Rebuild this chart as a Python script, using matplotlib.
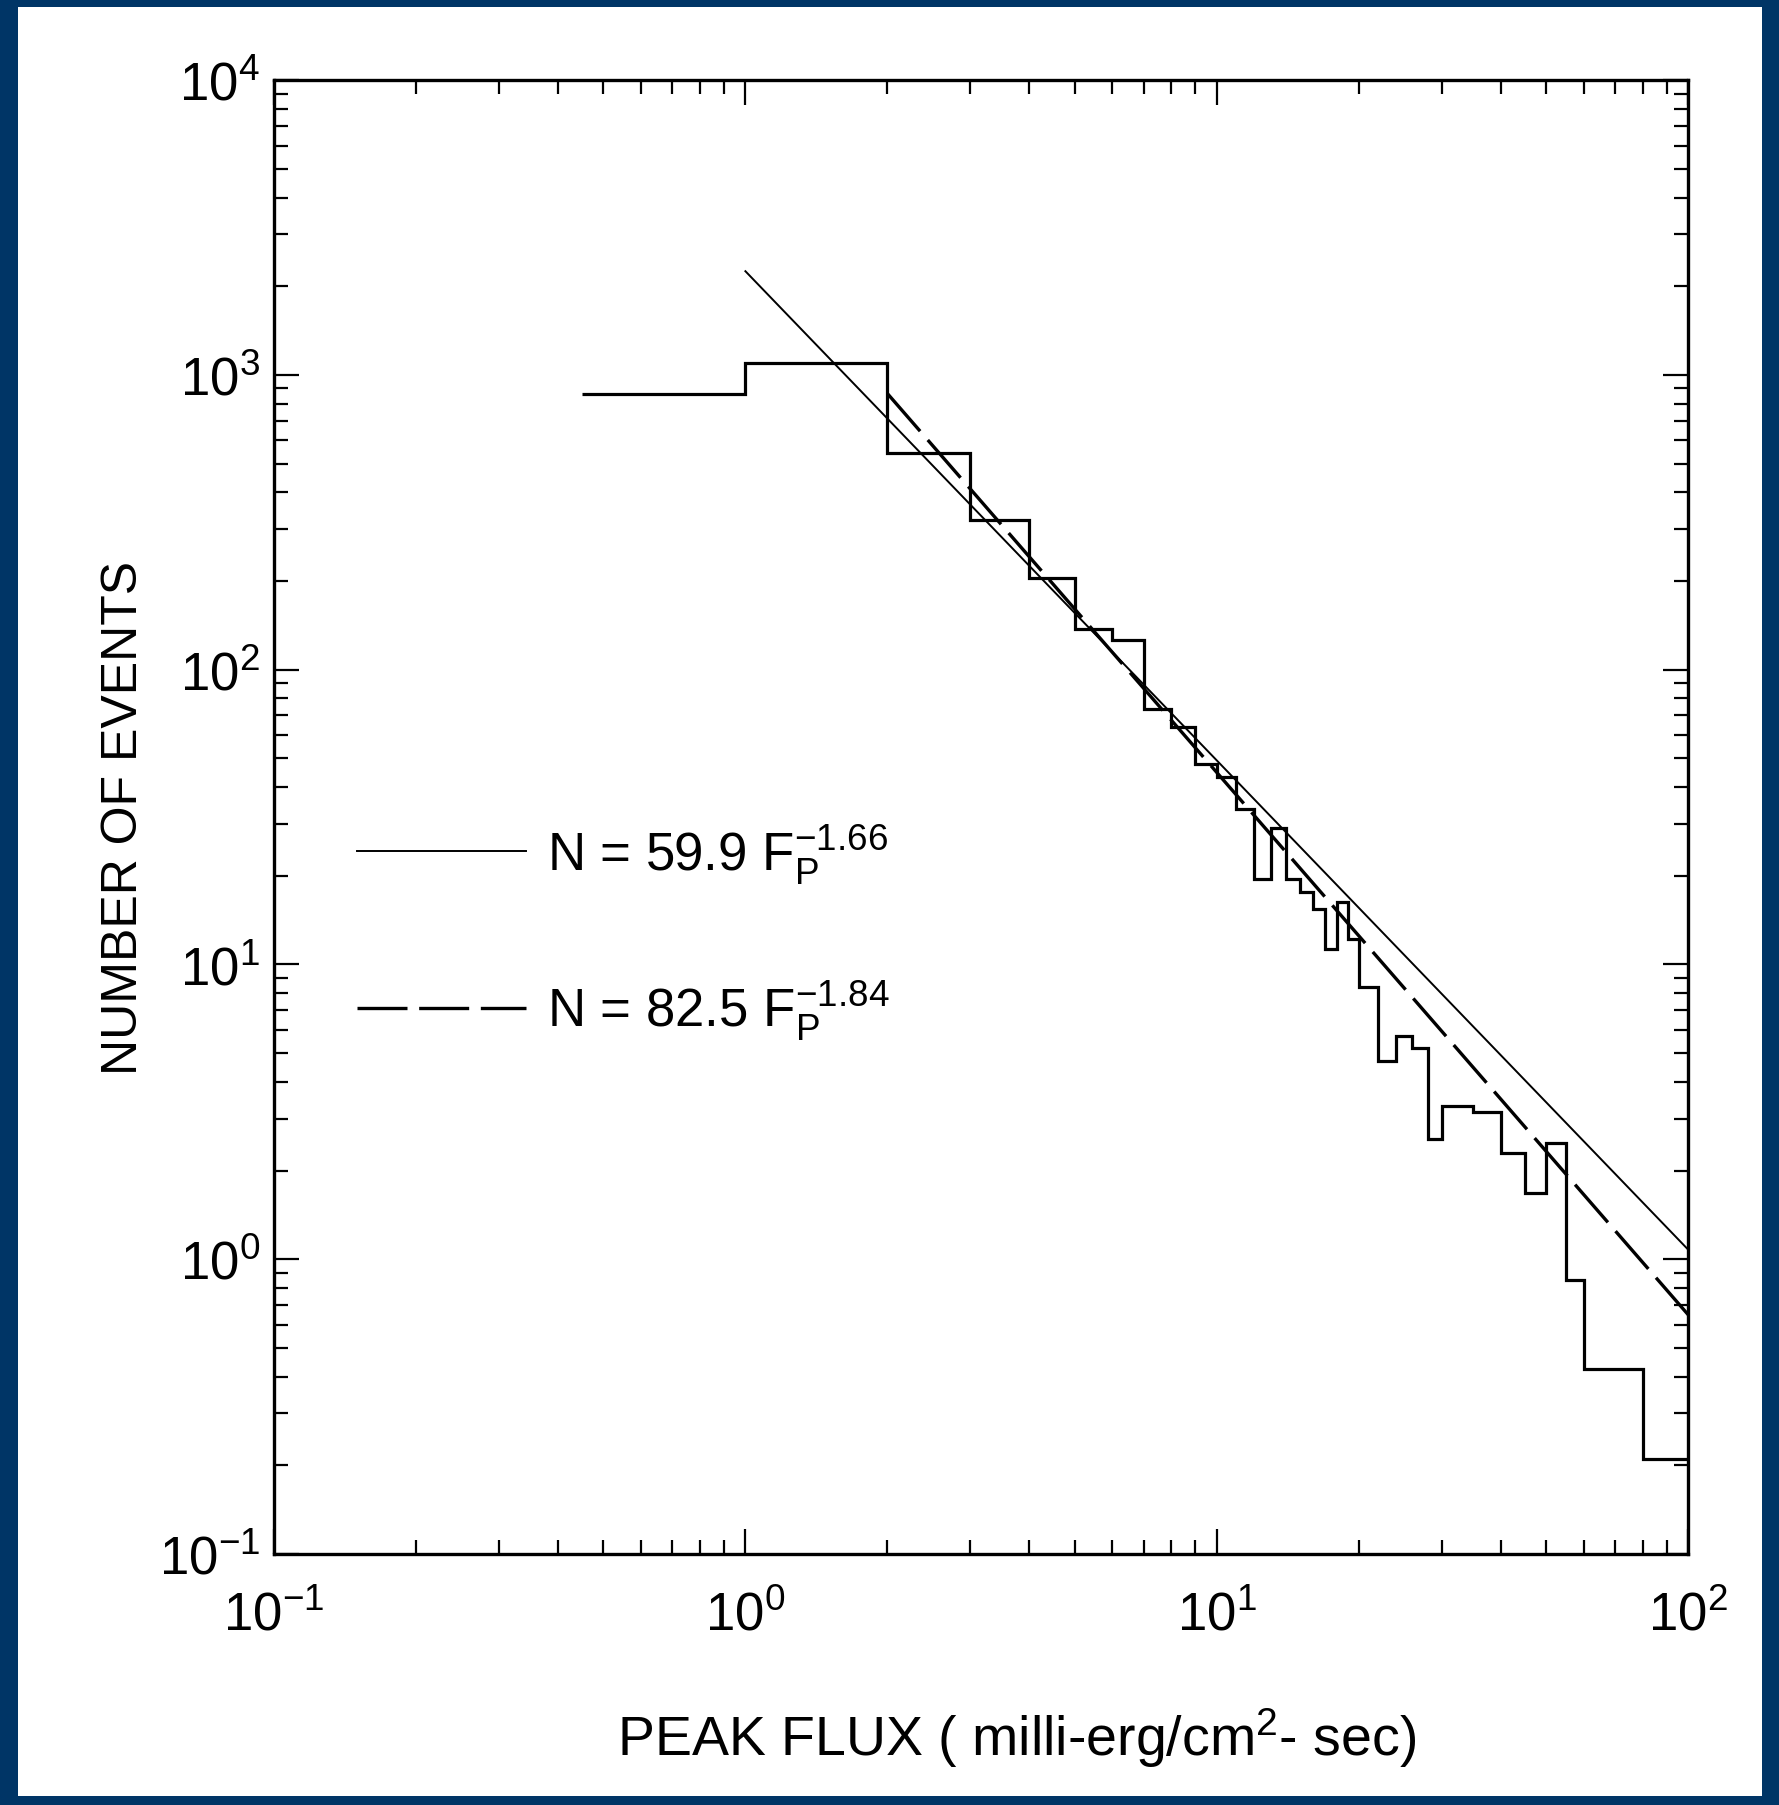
import numpy as np
import matplotlib
matplotlib.use("Agg")
import matplotlib.pyplot as plt
from matplotlib.ticker import LogLocator, FuncFormatter, NullFormatter
from matplotlib.patches import Rectangle

plt.rcParams['font.family'] = ['Liberation Sans Narrow', 'Liberation Sans', 'DejaVu Sans']

# histogram of peak fluxes (bin edges in milli-erg/cm^2-sec, counts per bin)
edges = [0.45, 1, 2, 3, 4, 5, 6, 7, 8, 9, 10, 11, 12, 13, 14, 15, 16, 17, 18, 19, 20,
         22, 24, 26, 28, 30, 35, 40, 45, 50, 55, 60, 80, 100]
counts = [860, 1100, 543, 322, 205, 138, 126, 73.5, 63.7, 47.8, 43.1, 33.7, 19.5, 29.0,
          19.5, 17.6, 15.4, 11.3, 16.3, 12.2, 8.4, 4.7, 5.7, 5.2, 2.56, 3.3, 3.15, 2.29,
          1.68, 2.47, 0.85, 0.425, 0.21]

# power-law fits (amplitude as drawn on the plot, index from the labels)
fit1_amp, fit1_idx, fit1_start = 2250, -1.66, 1.0
fit2_amp, fit2_idx, fit2_start = 3100, -1.84, 2.0
fit1_label = r'N = 59.9 F$\mathregular{_P^{-1.66}}$'
fit2_label = r'N = 82.5 F$\mathregular{_P^{-1.84}}$'

fig = plt.figure(figsize=(17.79, 18.06), dpi=100)
fig.patch.set_facecolor('#003566')
fig.patches.append(Rectangle((0.0101, 0.005), 0.9803, 0.9906, transform=fig.transFigure,
                             facecolor='white', edgecolor='none', zorder=-1))

ax = fig.add_axes([0.154, 0.139, 0.795, 0.816])
ax.set_facecolor('white')

ax.stairs(counts, edges, baseline=None, color='black', lw=2.3)

f1 = np.logspace(np.log10(fit1_start), 2, 200)
ax.plot(f1, fit1_amp * f1 ** fit1_idx, color='black', lw=1.4, label=fit1_label)
f2 = np.logspace(np.log10(fit2_start), 2, 200)
ax.plot(f2, fit2_amp * f2 ** fit2_idx, color='black', lw=2.4, dashes=(15, 3.5),
        label=fit2_label)

ax.set_xscale('log')
ax.set_yscale('log')
ax.set_xlim(0.1, 100)
ax.set_ylim(0.1, 1e4)

fmt = FuncFormatter(lambda v, p: r'$\mathregular{10^{%d}}$' % round(np.log10(v)))
for axis in (ax.xaxis, ax.yaxis):
    axis.set_major_locator(LogLocator(base=10))
    axis.set_minor_locator(LogLocator(base=10, subs=np.arange(2, 10)))
    axis.set_major_formatter(fmt)
    axis.set_minor_formatter(NullFormatter())

ax.tick_params(which='both', direction='in', top=True, right=True, width=1.6)
ax.tick_params(which='major', length=18, labelsize=38)
ax.tick_params(axis='x', which='major', pad=26)
ax.tick_params(axis='y', which='major', pad=10)
ax.tick_params(which='minor', length=10)
for s in ax.spines.values():
    s.set_linewidth(2.4)

ax.set_ylabel('NUMBER OF EVENTS', fontsize=36)
ax.yaxis.set_label_coords(-0.106, 0.5)
ax.yaxis.label.set_va('center')
ax.set_xlabel(r'PEAK FLUX ( milli-erg/cm$\mathregular{^2}$- sec)', fontsize=40)
ax.xaxis.set_label_coords(0.525, -0.124)
ax.xaxis.label.set_va('center')

ax.legend(loc='center left', bbox_to_anchor=(0.025, 0.422), frameon=False, fontsize=38,
          handlelength=3.2, handletextpad=0.4, labelspacing=1.75)

fig.savefig('out.png', dpi=100, facecolor=fig.get_facecolor())
